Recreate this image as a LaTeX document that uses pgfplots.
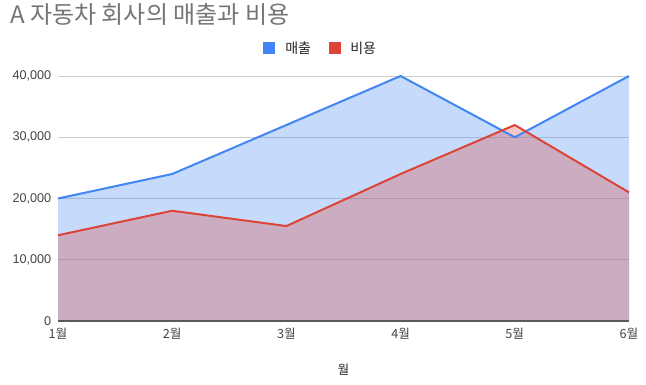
\documentclass[border=0pt]{standalone}
\usepackage{fontspec}
\setmainfont{Liberation Sans}
\newfontfamily\kr{Noto Sans CJK KR}
\usepackage{pgfplots}
\pgfplotsset{compat=1.18}
\definecolor{gblue}{HTML}{4285F4}
\definecolor{gred}{HTML}{DB4437}
\definecolor{gridc}{HTML}{CCCCCC}
\definecolor{txt}{HTML}{444444}
\definecolor{ttl}{HTML}{757575}
\begin{document}
\begin{tikzpicture}[x=0.75pt,y=0.75pt]
\useasboundingbox (0,0) rectangle (646,385);
\node[anchor=base west, text=ttl, font=\kr\fontsize{18}{20}\selectfont, inner sep=0] at (10,361) {A 자동차 회사의 매출과 비용};
% legend
\fill[gblue] (263,331) rectangle (275,343);
\node[anchor=west, font=\kr\fontsize{10.5}{12}\selectfont, text=black!85, inner sep=0] at (285,337) {매출};
\fill[gred] (329,331) rectangle (341,343);
\node[anchor=west, font=\kr\fontsize{10.5}{12}\selectfont, text=black!85, inner sep=0] at (350,337) {비용};
\begin{axis}[
  at={(43.5pt,48pt)}, anchor=south west,
  scale only axis, width=428.25pt, height=183.75pt,
  xmin=0, xmax=5, ymin=0, ymax=40000,
  xtick={0,1,2,3,4,5},
  xticklabels={1월,2월,3월,4월,5월,6월},
  ytick={0,10000,20000,30000,40000},
  scaled y ticks=false,
  /pgf/number format/assume math mode=true,
  /pgf/number format/fixed,
  /pgf/number format/1000 sep={,},
  ymajorgrids, grid style={gridc, line width=0.75pt},
  axis line style={draw=none},
  major tick length=0pt,
  tick label style={text=txt, font=\fontsize{9.5}{10}\selectfont},
  xticklabel style={font=\kr\fontsize{9.5}{10}\selectfont, yshift=-1.5pt},
  yticklabel style={xshift=-1.5pt},
  xlabel={\kr 월}, xlabel style={font=\kr\fontsize{9.5}{10}\selectfont, text=black!85, yshift=-12pt},
  clip=false,
]
\addplot[draw=none, fill=gblue, fill opacity=0.3] coordinates {(0,20000)(1,24000)(2,32000)(3,40000)(4,30000)(5,40000)} \closedcycle;
\addplot[draw=none, fill=gred, fill opacity=0.3] coordinates {(0,14000)(1,18000)(2,15500)(3,24000)(4,32000)(5,21000)} \closedcycle;
\addplot[gblue, line width=1.5pt, line join=round] coordinates {(0,20000)(1,24000)(2,32000)(3,40000)(4,30000)(5,40000)};
\addplot[gred, line width=1.5pt, line join=round] coordinates {(0,14000)(1,18000)(2,15500)(3,24000)(4,32000)(5,21000)};
\draw[black!65, line width=0.9pt] (axis cs:0,0) -- (axis cs:5,0);
\end{axis}
\end{tikzpicture}
\end{document}
